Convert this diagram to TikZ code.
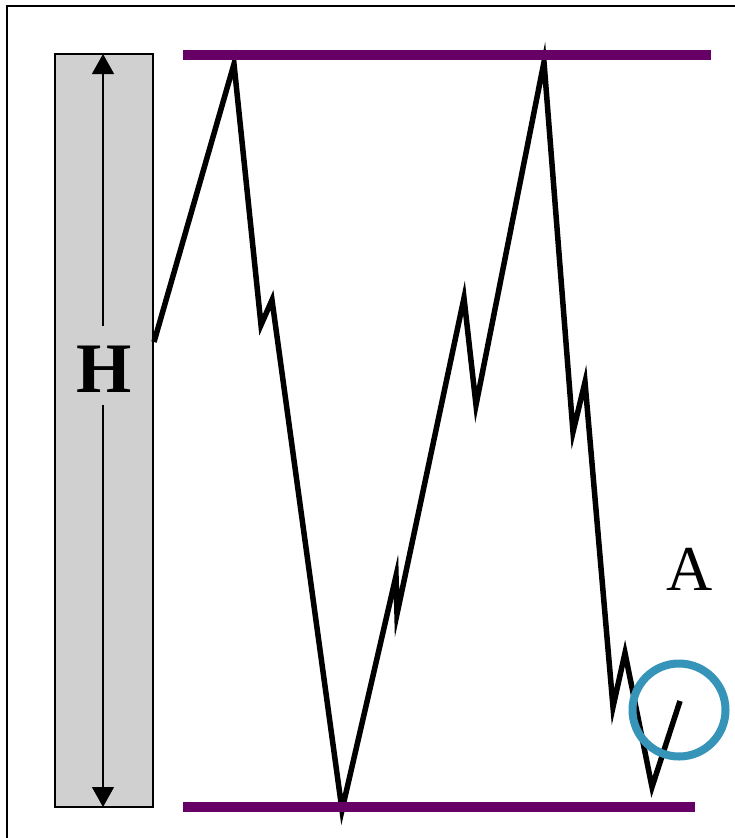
\documentclass[tikz,border=0pt]{standalone}
\usepackage{fontspec}
\setmainfont{Liberation Serif}
\usetikzlibrary{arrows.meta}
\definecolor{plum}{RGB}{102,0,102}
\definecolor{ringblue}{RGB}{54,148,184}
\definecolor{barfill}{RGB}{208,208,208}
\tikzset{
  frameline/.style={line width=2pt},
  levelline/.style={draw=plum,line width=10pt},
  zig/.style={line width=5.5pt,line join=miter,miter limit=20},
  harrow/.style={line width=1.3pt,-{Triangle[width=22pt,length=20pt]}},
}
\begin{document}
\begin{tikzpicture}[x=1pt,y=-1pt]
\useasboundingbox (0,0) rectangle (735,838);
% frame
\draw[frameline] (7,842) -- (7,6) -- (740,6);
% grey bar
\draw[fill=barfill,line width=1.5pt] (55,54) rectangle (153,807);
\node[font=\bfseries\fontsize{71}{71}\selectfont,anchor=base,inner sep=0pt] (H) at (104,392) {H};
\coordinate (top) at (103,54);
\coordinate (bot) at (103,807);
\coordinate (gapt) at (103,326);
\coordinate (gapb) at (103,405);
\draw[harrow] (gapt) -- (top);
\draw[harrow] (gapb) -- (bot);
% zigzag
\draw[zig] (154,342) -- (234,64) -- (261,325) -- (272,300) -- (342,810)
  -- (396,576) -- (397,614) -- (464,298) -- (476,405) -- (544,62)
  -- (573,432) -- (585,382) -- (613,707) -- (625,653) -- (652,787) -- (680,701);
% level lines
\draw[levelline] (183,55) -- (711,55);
\draw[levelline] (183,806.5) -- (695,806.5);
% ring
\draw[ringblue,line width=8pt] (679,710) circle (46.5);
\node[font=\fontsize{64}{64}\selectfont,anchor=base,inner sep=0pt] (A) at (690,590) {A};
\end{tikzpicture}
\end{document}
